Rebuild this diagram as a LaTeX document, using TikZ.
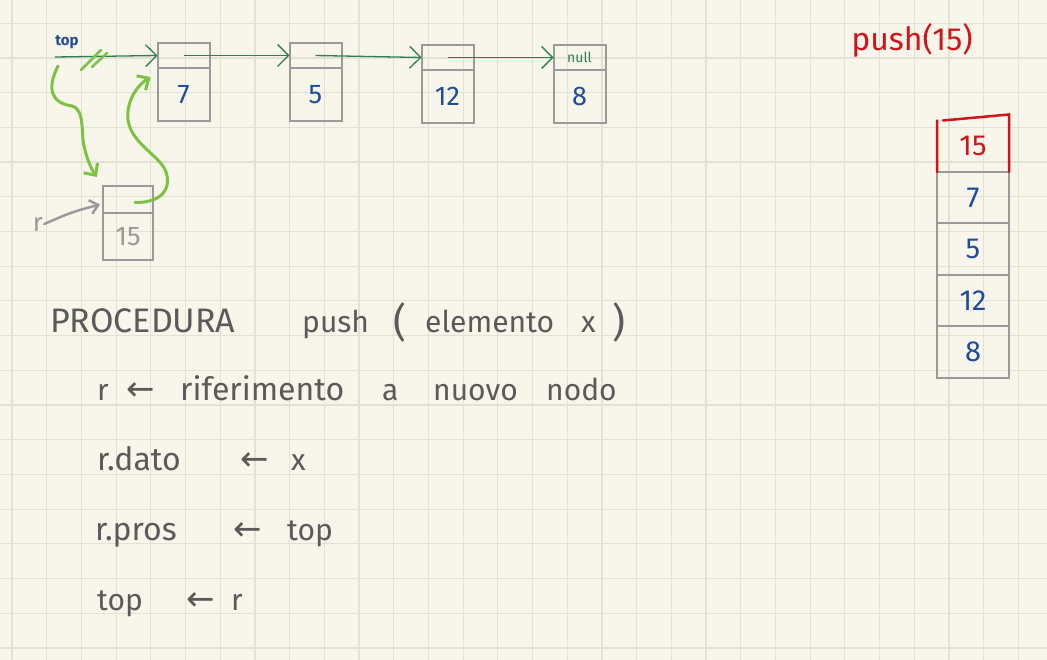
\documentclass[tikz,border=0pt]{standalone}
\usepackage{fontspec}
\setmainfont{Fira Sans}
\newfontfamily\arrowfont{DejaVu Sans}
\usetikzlibrary{arrows.meta, positioning, calc}

\definecolor{paper}{HTML}{F8F6EA}
\definecolor{gridline}{HTML}{E3E1D3}
\definecolor{boxgray}{HTML}{9A9A9A}
\definecolor{codegray}{HTML}{5A5A5A}
\definecolor{numblue}{HTML}{1E4C9C}
\definecolor{ptrgreen}{HTML}{2F7D55}
\definecolor{markgreen}{HTML}{7CC243}
\definecolor{redpen}{HTML}{D0141A}

\begin{document}
\begin{tikzpicture}[
    x=1pt, y=-1pt,
    cell/.style={rectangle, draw=boxgray, line width=2pt, minimum width=52pt, inner sep=0pt, outer sep=0pt},
    ptrcell/.style={cell, minimum height=25pt},
    datacell/.style={cell, minimum height=53pt, text=numblue, font=\fontsize{27}{30}\selectfont},
    stackcell/.style={cell, minimum width=72pt, minimum height=51.5pt, text=numblue, font=\fontsize{29}{32}\selectfont},
    ptr/.style={draw=ptrgreen, line width=1.3pt, -{Straight Barb[length=11pt,width=22pt]}},
    move/.style={draw=markgreen, line width=3pt, line cap=round, -{Straight Barb[length=9pt,width=17pt]}},
    code/.style={anchor=base west, inner sep=0pt, text=codegray, font=\fontsize{30}{36}\selectfont},
    larr/.style={code, font=\arrowfont\fontsize{34}{38}\selectfont}
]

% paper and grid
\fill[paper] (0,0) rectangle (1047,660);
\useasboundingbox (0,0) rectangle (1047,660);
\foreach \i in {0,...,29}
    \draw[gridline, line width=1.2pt] ({12+34.7*\i},0) -- ({12+34.7*\i},660);
\foreach \j in {0,...,18}
    \draw[gridline, line width=1.2pt] (0,{23.3+34.7*\j}) -- (1047,{23.3+34.7*\j});

% Linked list
\node[ptrcell] (p7) at (183.5,55.5) {};
\node[datacell, below=0pt of p7] (d7) {7};
\node[ptrcell] (p5) at (315.5,55.5) {};
\node[datacell, below=0pt of p5] (d5) {5};
\node[ptrcell] (p12) at (447.5,57.5) {};
\node[datacell, below=0pt of p12] (d12) {12};
\node[ptrcell, text=ptrgreen, font=\fontsize{14}{16}\selectfont] (p8) at (579.5,57.5) {null};
\node[datacell, below=0pt of p8] (d8) {8};

% top pointer
\node[text=numblue, font=\bfseries\fontsize{15}{17}\selectfont] (toplbl) at (67,42) {top};
\coordinate (topvar) at (55,57);
\draw[ptr] (topvar) -- (p7.west);
\draw[ptr] (p7.center) -- (p5.west);
\draw[ptr] (p5.center) -- (p12.west);
\draw[ptr] (p12.center) -- (p8.west);
\draw[markgreen, line width=2.5pt, line cap=round] (81,70) -- (101,50) (92,67) -- (107,53);

% New node r
\node[ptrcell, minimum width=50pt, minimum height=27pt] (pr) at (128,199.5) {};
\node[datacell, minimum width=50pt, minimum height=47pt, below=0pt of pr, text=boxgray] (dr) {15};
\node[text=boxgray, font=\fontsize{26}{30}\selectfont, inner sep=1pt] (rlbl) at (38,224) {r};
\draw[draw=boxgray, line width=2.5pt, line cap=round, -{Straight Barb[length=8pt,width=14pt]}]
    (rlbl.east) .. controls (72,212) .. ($(pr.west)+(-3,5)$);

% Green moves
\draw[move] ($(topvar)+(3,9)$) .. controls (46,90) and (52,103) .. (72,106)
    .. controls (86,110) and (80,135) .. (85,150)
    .. controls (88,162) and (92,170) .. ($(pr.north west)+(-6,-9)$);
\draw[move] ($(pr.center)+(7,3)$) .. controls (160,203) and (172,190) .. (166,172)
    .. controls (160,155) and (132,145) .. (128,120)
    .. controls (126,100) and (138,85) .. ($(p7.south west)+(-7,9)$);

% Stack
\node[text=redpen, font=\fontsize{32}{36}\selectfont] (pushcall) at (912,40) {push(15)};
\node[stackcell] (s7) at (973,197.75) {7};
\node[stackcell, below=0pt of s7] (s5) {5};
\node[stackcell, below=0pt of s5] (s12) {12};
\node[stackcell, below=0pt of s12] (s8) {8};
\node[stackcell, draw=none, text=redpen, above=0pt of s7] (s15) {15};
\draw[redpen, line width=2.5pt, line cap=round] (s15.south west) -- (s15.north west)
    ($(s15.north west)+(6,0)$) -- ($(s15.north east)+(0,-6)$) -- (s15.south east);

% Pseudocode
\node[code, font=\fontsize{34}{40}\selectfont] (proc) at (50,333) {PROCEDURA};
\node[code] (pushkw) at (302,333) {push};
\node[code, font=\fontsize{40}{44}\selectfont] (lpar) at (393,337) {(};
\node[code] (elem) at (425,333) {elemento};
\node[code] (argx) at (581,333) {x};
\node[code, font=\fontsize{40}{44}\selectfont] (rpar) at (612,337) {)};

\node[code] (ra) at (97,400) {r};
\node[larr] (arra) at (126,400) {←};
\node[code, font=\fontsize{32}{38}\selectfont] (rif) at (180,400) {riferimento};
\node[code] (prep) at (382,400) {a};
\node[code] (nuovo) at (433,400) {nuovo};
\node[code] (nodo) at (546,400) {nodo};

\node[code, font=\fontsize{32}{38}\selectfont] (rdato) at (97,470) {r.dato};
\node[larr] (arrb) at (240,470) {←};
\node[code] (valx) at (291,470) {x};

\node[code, font=\fontsize{32}{38}\selectfont] (rpros) at (95,540) {r.pros};
\node[larr] (arrc) at (233,540) {←};
\node[code] (oldtop) at (287,540) {top};

\node[code] (newtop) at (97,610) {top};
\node[larr] (arrd) at (186,610) {←};
\node[code] (rb) at (231,610) {r};

\end{tikzpicture}
\end{document}
